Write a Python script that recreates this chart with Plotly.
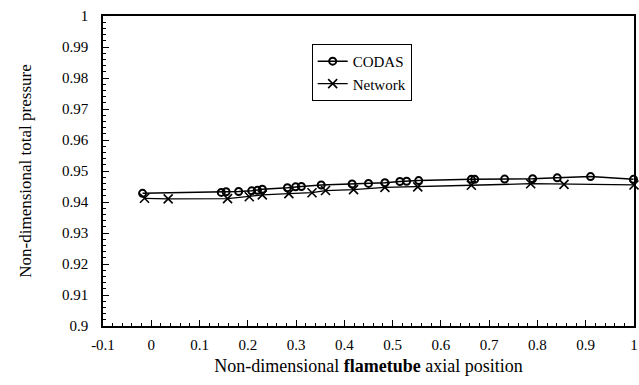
import plotly.graph_objects as go

codas_x = [-0.018, 0.145, 0.155, 0.181, 0.208, 0.220, 0.230, 0.282, 0.299, 0.311, 0.352,
           0.416, 0.450, 0.484, 0.515, 0.529, 0.554, 0.663, 0.670, 0.732, 0.790, 0.841, 0.910, 0.999]
codas_y = [0.9428, 0.9431, 0.9433, 0.9434, 0.9436, 0.9438, 0.9441, 0.9446, 0.9449, 0.9450, 0.9455,
           0.9458, 0.9460, 0.9462, 0.9466, 0.9467, 0.9469, 0.9473, 0.9473, 0.9474, 0.9475, 0.9478, 0.9482, 0.9473]

network_x = [-0.014, 0.035, 0.158, 0.203, 0.230, 0.285, 0.333, 0.361, 0.419, 0.484, 0.552,
             0.663, 0.786, 0.855, 1.000]
network_y = [0.9412, 0.9410, 0.9411, 0.9417, 0.9423, 0.9427, 0.9430, 0.9437, 0.9440, 0.9447, 0.9449,
             0.9454, 0.9459, 0.9457, 0.9455]

x_tickvals = [-0.1, 0, 0.1, 0.2, 0.3, 0.4, 0.5, 0.6, 0.7, 0.8, 0.9, 1.0]
x_ticktext = ["-0.1", "0", "0.1", "0.2", "0.3", "0.4", "0.5", "0.6", "0.7", "0.8", "0.9", "1"]
y_tickvals = [0.9, 0.91, 0.92, 0.93, 0.94, 0.95, 0.96, 0.97, 0.98, 0.99, 1.0]
y_ticktext = ["0.9", "0.91", "0.92", "0.93", "0.94", "0.95", "0.96", "0.97", "0.98", "0.99", "1"]

FONT = "Liberation Serif, Times New Roman, Times, serif"

fig = go.Figure()
fig.add_trace(go.Scatter(
    x=codas_x, y=codas_y, name="CODAS", mode="lines+markers", cliponaxis=False,
    line=dict(color="black", width=1.5),
    marker=dict(symbol="circle-open", size=7, color="black", line=dict(width=2)),
))
fig.add_trace(go.Scatter(
    x=network_x, y=network_y, name="Network", mode="lines+markers", cliponaxis=False,
    line=dict(color="black", width=1.3),
    marker=dict(symbol="x-thin", size=9, color="black", line=dict(width=1.6, color="black")),
))

axis_common = dict(
    showgrid=False, zeroline=False, showline=True, linecolor="black", linewidth=1.5,
    mirror=True, ticks="inside", tickcolor="black", ticklen=6, tickwidth=1,
    tickfont=dict(family=FONT, size=15, color="black"),
)

fig.update_xaxes(
    range=[-0.1, 1.0], tickvals=x_tickvals, ticktext=x_ticktext,
    minor=dict(ticks="inside", ticklen=3, dtick=0.02, tick0=0, tickcolor="black"),
    title=dict(text="Non-dimensional <b>flametube</b> axial position",
               font=dict(family=FONT, size=18, color="black"), standoff=8),
    ticklabelstandoff=4,
    automargin=False,
    **axis_common,
)
fig.update_yaxes(
    range=[0.9, 1.0], tickvals=y_tickvals, ticktext=y_ticktext,
    minor=dict(ticks="inside", ticklen=3, dtick=0.002, tick0=0.9, tickcolor="black"),
    title=dict(text="Non-dimensional total pressure",
               font=dict(family=FONT, size=17, color="black"), standoff=26),
    ticklabelstandoff=10,
    automargin=False,
    **axis_common,
)

fig.update_layout(
    width=639, height=385,
    margin=dict(l=103, r=5, t=16, b=59),
    paper_bgcolor="white", plot_bgcolor="white",
    showlegend=True,
    legend=dict(
        x=0.393, y=0.91, xanchor="left", yanchor="top",
        bgcolor="white", bordercolor="black", borderwidth=1,
        font=dict(family=FONT, size=15, color="black"),
        itemwidth=30, tracegroupgap=0,
    ),
)

fig.write_html("out.html", config={"displayModeBar": False},
               post_script="document.body.style.margin='0';document.body.style.overflow='hidden';")
